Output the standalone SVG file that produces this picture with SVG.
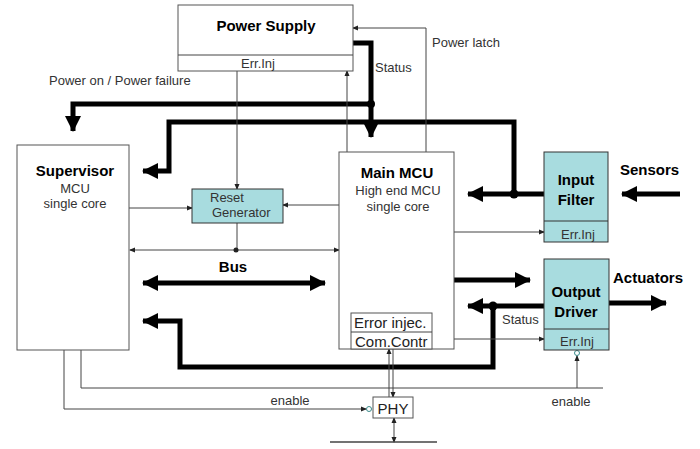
<svg xmlns="http://www.w3.org/2000/svg" width="700" height="449" viewBox="0 0 700 449">
<defs>
<style>
.box{fill:#fff;stroke:#555;stroke-width:1}
.teal{fill:#a8dcdf;stroke:#333;stroke-width:1}
.thick{fill:none;stroke:#000;stroke-width:5}
.thin{fill:none;stroke:#444;stroke-width:1}
.t{font-family:"Liberation Sans",Arial,sans-serif;font-size:13px;fill:#333}
.b{font-family:"Liberation Sans",Arial,sans-serif;font-size:15px;font-weight:bold;fill:#000}
.m{font-family:"Liberation Sans",Arial,sans-serif;font-size:15px;fill:#222}
.c{text-anchor:middle}
</style>
<marker id="ah" markerUnits="userSpaceOnUse" markerWidth="16" markerHeight="16" refX="15" refY="8" orient="auto-start-reverse">
<path d="M0,0 L16,8 L0,16 z" fill="#000"/>
</marker>
<marker id="as" markerUnits="userSpaceOnUse" markerWidth="6" markerHeight="6" refX="5" refY="3" orient="auto-start-reverse">
<path d="M0,0.5 L6,3 L0,5.5 z" fill="#222"/>
</marker>
</defs>
<rect width="700" height="449" fill="#fff"/>

<g id="connectors">
<polyline class="thick" points="353,43 371,43 371,137" marker-end="url(#ah)"/>
<polyline class="thick" points="371,104 73,104 73,131" marker-end="url(#ah)"/>
<line class="thick" x1="544" y1="194" x2="468" y2="194" marker-end="url(#ah)"/>
<polyline class="thick" points="514,194 514,122 169,122 169,171 143,171" marker-end="url(#ah)"/>
<line class="thick" x1="680" y1="194" x2="622" y2="194" marker-end="url(#ah)"/>
<line class="thick" x1="454" y1="280" x2="530" y2="280" marker-end="url(#ah)"/>
<line class="thick" x1="544" y1="306" x2="468" y2="306" marker-end="url(#ah)"/>
<polyline class="thick" points="493,306 493,367 180,367 180,321 143,321" marker-end="url(#ah)"/>
<line class="thick" x1="609" y1="303" x2="666" y2="303" marker-end="url(#ah)"/>
<line class="thick" x1="143" y1="283" x2="325" y2="283" marker-start="url(#ah)" marker-end="url(#ah)"/>
<circle cx="371" cy="104" r="4" fill="#000"/>
<circle cx="514" cy="194" r="4.5" fill="#000"/>
<circle cx="493" cy="306" r="4.5" fill="#000"/>

<line class="thin" x1="237" y1="71" x2="237" y2="189" marker-end="url(#as)"/>
<polyline class="thin" points="426,152 426,28 353,28" marker-end="url(#as)"/>
<line class="thin" x1="347" y1="152" x2="347" y2="71" marker-end="url(#as)"/>
<line class="thin" x1="129" y1="208" x2="192" y2="208" marker-end="url(#as)"/>
<line class="thin" x1="339" y1="205" x2="283" y2="205" marker-end="url(#as)"/>
<line class="thin" x1="237" y1="223" x2="237" y2="250"/>
<line class="thin" x1="130" y1="250" x2="339" y2="250" marker-start="url(#as)" marker-end="url(#as)"/>
<circle cx="236" cy="250" r="2.5" fill="#222"/>
<line class="thin" x1="454" y1="232" x2="544" y2="232" marker-end="url(#as)"/>
<line class="thin" x1="454" y1="339" x2="544" y2="339" marker-end="url(#as)"/>
<polyline class="thin" points="81,350 81,388 603,388"/>
<line class="thin" x1="577" y1="388" x2="577" y2="356" marker-end="url(#as)"/>
<circle cx="577" cy="353" r="2.5" fill="#fff" stroke="#3a8a8a" stroke-width="1"/>
<polyline class="thin" points="64,350 64,409 366,409" marker-end="url(#as)"/>
<circle cx="369" cy="409" r="2.5" fill="#fff" stroke="#3a8a8a" stroke-width="1"/>
<line class="thin" x1="389" y1="397" x2="389" y2="349" marker-end="url(#as)"/>
<line class="thin" x1="393" y1="349" x2="393" y2="397" marker-end="url(#as)"/>
<line class="thin" x1="394" y1="418" x2="394" y2="442" marker-start="url(#as)" marker-end="url(#as)"/>
<line x1="330" y1="442" x2="437" y2="442" stroke="#444" stroke-width="1.5"/>

<text class="t" x="49" y="85">Power on / Power failure</text>
<text class="t" x="375" y="72">Status</text>
<text class="t" x="432" y="47">Power latch</text>
<text class="t" x="124" y="254" text-anchor="end">Reset</text>
<text class="t" x="345" y="254">Reset</text>
<text class="b c" x="233" y="272">Bus</text>
<text class="t" x="502" y="324">Status</text>
<text class="t" x="290" y="405" text-anchor="middle">enable</text>
<text class="t" x="571" y="406" text-anchor="middle">enable</text>
<text class="b" x="620" y="175">Sensors</text>
<text class="b" x="613" y="283">Actuators</text>
</g>

<g id="power-supply">
<rect class="box" x="178" y="5" width="175" height="66"/>
<line class="thin" x1="178" y1="55" x2="353" y2="55"/>
<text class="b c" x="266" y="31" font-size="16">Power Supply</text>
<text class="t c" x="258" y="68">Err.Inj</text>
</g>

<g id="supervisor">
<rect class="box" x="17" y="145" width="112" height="205"/>
<text class="b c" x="75" y="176">Supervisor</text>
<text class="t c" x="75" y="193">MCU</text>
<text class="t c" x="75" y="208">single core</text>
</g>

<g id="reset-generator">
<rect class="teal" x="192" y="189" width="91" height="34"/>
<text class="t" x="210" y="202">Reset</text>
<text class="t" x="212" y="217">Generator</text>
</g>

<g id="main-mcu">
<rect class="box" x="339" y="152" width="115" height="197"/>
<text class="b c" x="397" y="178" font-size="16">Main MCU</text>
<text class="t c" x="398" y="195">High end MCU</text>
<text class="t c" x="398" y="211">single core</text>
<rect class="box" x="351" y="313" width="81" height="36"/>
<line class="thin" x1="351" y1="332" x2="432" y2="332"/>
<text class="m" x="354" y="328">Error injec.</text>
<text class="m" x="355" y="347">Com.Contr</text>
</g>

<g id="input-filter">
<rect class="teal" x="544" y="152" width="64" height="90"/>
<line x1="544" y1="221" x2="608" y2="221" stroke="#333"/>
<text class="b c" x="576" y="185">Input</text>
<text class="b c" x="576" y="205">Filter</text>
<text class="t c" x="578" y="239">Err.Inj</text>
</g>

<g id="output-driver">
<rect class="teal" x="544" y="259" width="65" height="91"/>
<line x1="544" y1="329" x2="609" y2="329" stroke="#333"/>
<text class="b c" x="576" y="297">Output</text>
<text class="b c" x="576" y="317">Driver</text>
<text class="t c" x="577" y="346">Err.Inj</text>
</g>

<g id="phy">
<rect class="box" x="373" y="397" width="40" height="21"/>
<text class="m c" x="393" y="414">PHY</text>
</g>
</svg>
